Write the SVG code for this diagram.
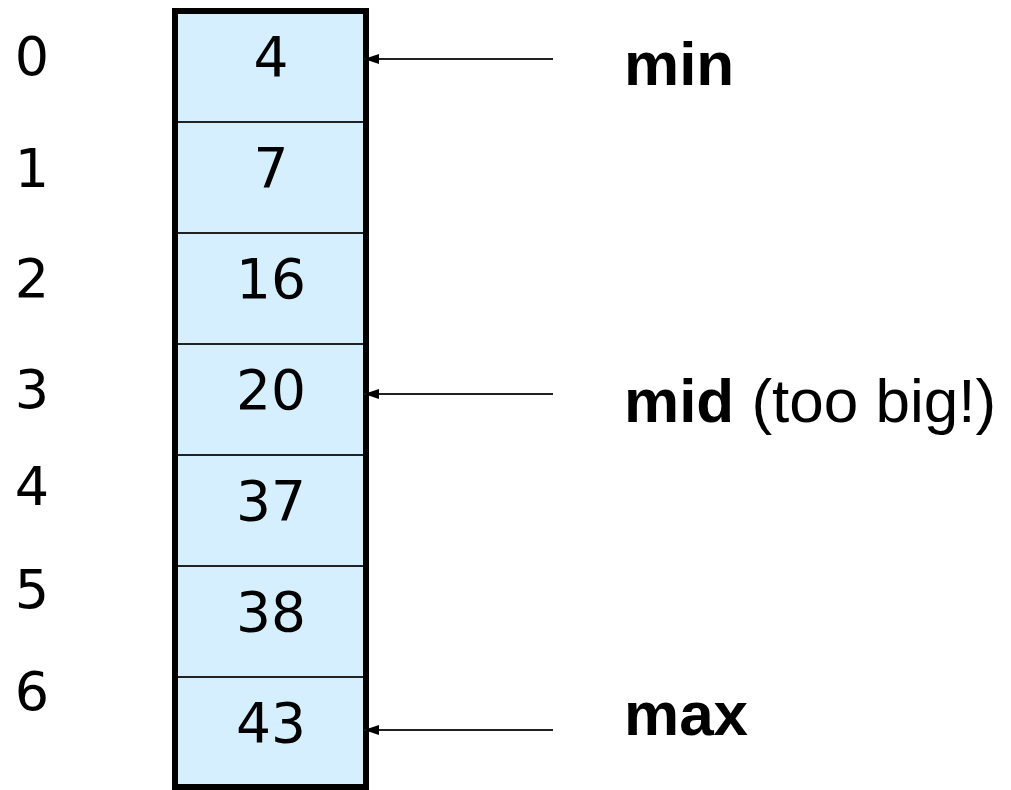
<svg xmlns="http://www.w3.org/2000/svg" width="1011" height="790" viewBox="0 0 1011 790">
<style>
.idx{font-family:"DejaVu Sans",Verdana,sans-serif;font-size:54px;fill:#000;text-anchor:middle}
.val{font-family:"DejaVu Sans",Verdana,sans-serif;font-size:55px;fill:#000;text-anchor:middle}
.lbl{font-family:"Liberation Sans",Arial,sans-serif;font-size:62px;fill:#000}
.b{font-weight:bold}
.div{stroke:#222;stroke-width:2}
.arr{stroke:#222;stroke-width:2;fill:none;marker-end:url(#ah)}
</style>
<defs>
<marker id="ah" markerUnits="userSpaceOnUse" markerWidth="16" markerHeight="12" refX="15" refY="6" orient="auto">
<path d="M0,1 L15,6 L0,11 Z" fill="#000"/>
</marker>
</defs>
<rect width="1011" height="790" fill="#fff"/>
<g id="array">
<rect x="175" y="11" width="191" height="776" fill="#d6efff" stroke="none"/>
<line class="div" x1="175" y1="122" x2="366" y2="122"/>
<line class="div" x1="175" y1="233" x2="366" y2="233"/>
<line class="div" x1="175" y1="344" x2="366" y2="344"/>
<line class="div" x1="175" y1="455" x2="366" y2="455"/>
<line class="div" x1="175" y1="566" x2="366" y2="566"/>
<line class="div" x1="175" y1="677" x2="366" y2="677"/>
<rect x="175" y="11" width="191" height="776" fill="none" stroke="#000" stroke-width="6"/>
</g>
<g id="cell0"><text class="val" x="271" y="76">4</text></g>
<g id="cell1"><text class="val" x="271" y="187">7</text></g>
<g id="cell2"><text class="val" x="271" y="298">16</text></g>
<g id="cell3"><text class="val" x="271" y="409">20</text></g>
<g id="cell4"><text class="val" x="271" y="520">37</text></g>
<g id="cell5"><text class="val" x="271" y="631">38</text></g>
<g id="cell6"><text class="val" x="271" y="742">43</text></g>
<g id="indices">
<text class="idx" x="32" y="75">0</text>
<text class="idx" x="32" y="187">1</text>
<text class="idx" x="32" y="297">2</text>
<text class="idx" x="32" y="408">3</text>
<text class="idx" x="32" y="505">4</text>
<text class="idx" x="32" y="608">5</text>
<text class="idx" x="32" y="710">6</text>
</g>
<g id="connectors">
<line class="arr" x1="553" y1="59" x2="364" y2="59"/>
<line class="arr" x1="553" y1="394" x2="364" y2="394"/>
<line class="arr" x1="553" y1="730" x2="364" y2="730"/>
</g>
<g id="label-min"><text class="lbl b" x="624" y="85">min</text></g>
<g id="label-mid"><text class="lbl" x="624" y="422"><tspan class="b">mid</tspan> (too big!)</text></g>
<g id="label-max"><text class="lbl b" x="624" y="735">max</text></g>
</svg>
